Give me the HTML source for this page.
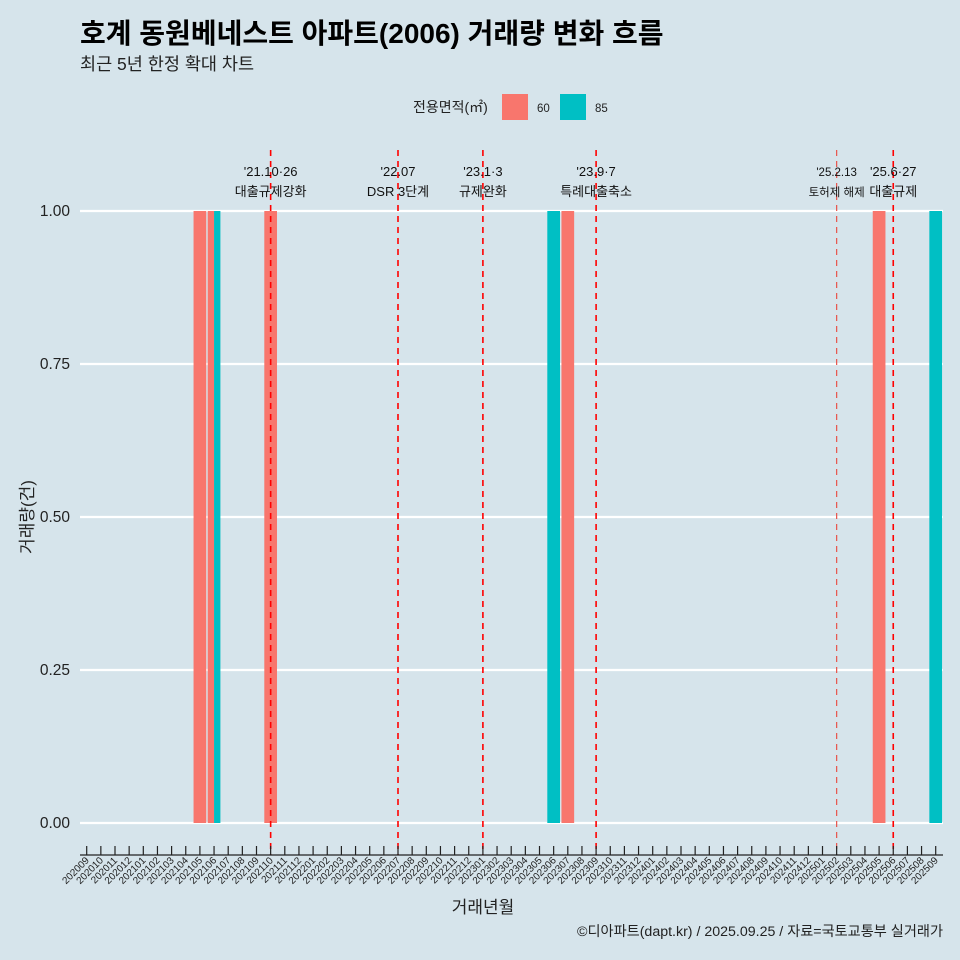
<!DOCTYPE html>
<html><head><meta charset="utf-8"><style>
body{margin:0;background:#d6e4eb;}
svg{display:block;font-family:"Liberation Sans","Noto Sans CJK KR",sans-serif;}
</style></head><body>
<svg id="c" width="960" height="960">
<rect width="960" height="960" fill="#d6e4eb"/>
<text x="80" y="43" font-size="28" font-weight="bold" fill="#000">호계 동원베네스트 아파트(2006) 거래량 변화 흐름</text>
<text x="80" y="70" font-size="17.5" fill="#222">최근 5년 한정 확대 차트</text>
<g>
<text x="413" y="112" font-size="14" fill="#222">전용면적(㎡)</text>
<rect x="502" y="94" width="26" height="26" fill="#f8766d"/>
<text x="537" y="112" font-size="11.5" fill="#222">60</text>
<rect x="560" y="94" width="26" height="26" fill="#00bfc4"/>
<text x="595" y="112" font-size="11.5" fill="#222">85</text>
</g>
<g id="grid"></g><g id="bars"></g><g id="vl"></g><g id="xa"></g><g id="ya"></g>
<text transform="translate(33,517) rotate(-90)" text-anchor="middle" font-size="17" fill="#222">거래량(건)</text>
<text x="483" y="913" text-anchor="middle" font-size="17" fill="#222">거래년월</text>
<text x="943" y="936" text-anchor="end" font-size="14.2" fill="#222">©디아파트(dapt.kr) / 2025.09.25 / 자료=국토교통부 실거래가</text>
</svg>
<script>
const months=[];for(let y=2020;y<=2025;y++)for(let m=1;m<=12;m++){const k=y*100+m;if(k>=202009&&k<=202509)months.push(String(k));}
const yTicks=[0,0.25,0.5,0.75,1];
const yTickLabels=["0.00","0.25","0.50","0.75","1.00"];
const series60Months=["202105","202106","202110","202307","202505"];
const series60Values=[1,1,1,1,1];
const series85Months=["202106","202306","202509"];
const series85Values=[1,1,1];
const eventMonths=["202110","202207","202301","202309","202502","202506"];
const eventLine1=["'21.10·26","'22.07","'23.1·3","'23.9·7","'25.2.13","'25.6·27"];
const eventLine2=["대출규제강화","DSR 3단계","규제완화","특례대출축소","토허제 해제","대출규제"];
const NS="http://www.w3.org/2000/svg";
const x0=86.7,step=14.15,yB=823,yT=211;
const xs=m=>x0+months.indexOf(m)*step;
const ys=v=>yB-(yB-yT)*v;
function mk(t,a,p){const e=document.createElementNS(NS,t);for(const k in a)e.setAttribute(k,a[k]);document.getElementById(p).appendChild(e);return e;}
yTicks.forEach((v,i)=>{
 const l=mk('line',{x1:80,x2:943,y1:ys(v),y2:ys(v),stroke:'#fff','stroke-width':2.2},'grid');
 
 
 const t=mk('text',{x:70,y:ys(v)+5,'text-anchor':'end','font-size':15.5,fill:'#222'},'ya');
 t.textContent=yTickLabels[i];
 
 
});
const bw=12.7;
function drawBar(m,v,color,name){
 const both=series60Months.includes(m)&&series85Months.includes(m);
 let x=xs(m)-bw/2,w=bw;
 if(both){w=bw/2;if(color==='#00bfc4')x+=w;}
 const r=mk('rect',{x:x,y:ys(v),width:w,height:ys(0)-ys(v),fill:color},'bars');
 
 
}
series60Months.forEach((m,i)=>drawBar(m,series60Values[i],'#f8766d','bar-60-'+m));
series85Months.forEach((m,i)=>drawBar(m,series85Values[i],'#00bfc4','bar-85-'+m));
eventMonths.forEach((m,i)=>{
 const x=xs(m),thin=m==='202502';
 const l=mk('line',{x1:x,x2:x,y1:150,y2:855,stroke:thin?'#e8524a':'#ff0000','stroke-width':thin?1.2:1.6,'stroke-dasharray':'6,5'},'vl');
 
 
 const fs=thin?11.5:13;
 const a=mk('text',{x:x,y:176,'text-anchor':'middle','font-size':fs,fill:'#111'},'vl');a.textContent=eventLine1[i];
 
 
 const b=mk('text',{x:x,y:196,'text-anchor':'middle','font-size':fs,fill:'#111'},'vl');b.textContent=eventLine2[i];
 
 
});
const ax=mk('line',{x1:80,x2:943,y1:855,y2:855,stroke:'#222','stroke-width':1.3},'xa');


months.forEach(m=>{
 const x=xs(m);
 const t=mk('line',{x1:x,x2:x,y1:846,y2:855,stroke:'#222','stroke-width':1.2},'xa');
 
 
 const s=mk('text',{transform:`translate(${x+3},${861}) rotate(-45)`,'text-anchor':'end','font-size':10,fill:'#222'},'xa');
 s.textContent=m;
 
 
});
</script>
</body></html>
